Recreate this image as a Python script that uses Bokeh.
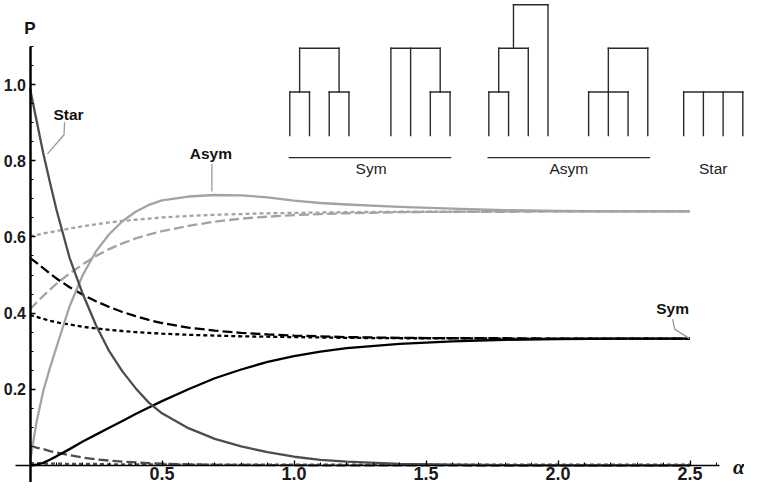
from bokeh.plotting import figure
from bokeh.models import Range1d, LinearAxis, FixedTicker, PrintfTickFormatter
from bokeh.core.properties import value
from bokeh.embed import file_html
from bokeh.resources import INLINE

# ---------------- data ----------------
alpha = [0, 0.025, 0.05, 0.075, 0.1, 0.15, 0.2, 0.25, 0.3, 0.35, 0.4, 0.45, 0.5,
         0.6, 0.7, 0.8, 0.9, 1.0, 1.1, 1.2, 1.4, 1.6, 1.8, 2.0, 2.25, 2.5]

star_solid = [0.99, 0.905, 0.82, 0.745, 0.672, 0.545, 0.45, 0.368, 0.30, 0.247, 0.203, 0.165, 0.137,
              0.098, 0.07, 0.05, 0.035, 0.023, 0.015, 0.01, 0.004, 0.002, 0.001, 0.0005, 0.0002, 0.0001]
sym_solid = [0, 0.002, 0.007, 0.015, 0.024, 0.043, 0.063, 0.081, 0.099, 0.117, 0.135, 0.152, 0.169,
             0.20, 0.229, 0.252, 0.272, 0.287, 0.299, 0.308, 0.319, 0.326, 0.33, 0.332, 0.333, 0.333]
asym_solid = [0.01, 0.115, 0.195, 0.255, 0.31, 0.418, 0.50, 0.562, 0.607, 0.641, 0.666, 0.684, 0.696,
              0.706, 0.71, 0.709, 0.704, 0.695, 0.689, 0.685, 0.679, 0.674, 0.67, 0.668, 0.667, 0.667]
star_dashed = [0.052, 0.047, 0.043, 0.038, 0.034, 0.027, 0.021, 0.016, 0.013, 0.010, 0.008, 0.006, 0.005,
               0.003, 0.002, 0.0015, 0.001, 0.0007, 0.0005, 0.0003, 0.0002, 0.0001, 0, 0, 0, 0]
star_dotted = [0.006, 0.006, 0.005, 0.005, 0.005, 0.004, 0.004, 0.004, 0.003, 0.003, 0.003, 0.003, 0.003,
               0.002, 0.002, 0.002, 0.002, 0.002, 0.002, 0.002, 0.002, 0.002, 0.002, 0.002, 0.002, 0.002]
sym_dashed = [0.545, 0.532, 0.518, 0.504, 0.491, 0.468, 0.448, 0.431, 0.416, 0.403, 0.392, 0.382, 0.374,
              0.362, 0.354, 0.348, 0.344, 0.341, 0.339, 0.337, 0.335, 0.334, 0.334, 0.333, 0.333, 0.333]
sym_dotted = [0.395, 0.39, 0.385, 0.38, 0.376, 0.37, 0.364, 0.36, 0.356, 0.353, 0.35, 0.348, 0.346,
              0.343, 0.341, 0.339, 0.338, 0.337, 0.336, 0.335, 0.334, 0.334, 0.333, 0.333, 0.333, 0.333]
asym_dashed = [0.41, 0.428, 0.445, 0.461, 0.477, 0.504, 0.528, 0.55, 0.568, 0.583, 0.596, 0.606, 0.615,
               0.629, 0.64, 0.648, 0.653, 0.657, 0.66, 0.662, 0.665, 0.666, 0.666, 0.667, 0.667, 0.667]
asym_dotted = [0.602, 0.605, 0.609, 0.612, 0.615, 0.622, 0.628, 0.633, 0.638, 0.642, 0.645, 0.648, 0.651,
               0.655, 0.658, 0.66, 0.662, 0.663, 0.664, 0.665, 0.666, 0.666, 0.667, 0.667, 0.667, 0.667]

x_ticks = [0.5, 1.0, 1.5, 2.0, 2.5]
x_minor = [i / 10 for i in range(1, 27)]
y_ticks = [0.2, 0.4, 0.6, 0.8, 1.0]
y_minor = [i / 20 for i in range(1, 23)]

tree_labels = ["Sym", "Asym", "Star"]
curve_labels = ["Star", "Asym", "Sym"]

# tree topologies: (kind, position, from, to) in leaf / level units
trees = [
    [("v", 0, 0, 1), ("v", 1, 0, 1), ("v", 2, 0, 1), ("v", 3, 0, 1), ("v", 0.5, 1, 2), ("v", 2.5, 1, 2),
     ("h", 1, 0, 1), ("h", 1, 2, 3), ("h", 2, 0.5, 2.5)],
    [("v", 0, 0, 2), ("v", 1, 0, 2), ("v", 2, 0, 1), ("v", 3, 0, 1), ("v", 2.5, 1, 2),
     ("h", 1, 2, 3), ("h", 2, 0, 2.5)],
    [("v", 0, 0, 1), ("v", 1, 0, 1), ("v", 0.5, 1, 2), ("v", 2, 0, 2), ("v", 1.25, 2, 3), ("v", 3, 0, 3),
     ("h", 1, 0, 1), ("h", 2, 0.5, 2), ("h", 3, 1.25, 3)],
    [("v", 0, 0, 1), ("v", 1, 0, 1), ("v", 2, 0, 1), ("v", 1, 1, 2), ("v", 3, 0, 2),
     ("h", 1, 0, 2), ("h", 2, 1, 3)],
    [("v", 0, 0, 1), ("v", 1, 0, 1), ("v", 2, 0, 1), ("v", 3, 0, 1), ("h", 1, 0, 3)],
]

# ---------------- layout ----------------
W, H = 744, 482
X0_PX, PPU_X = 29.5, 264.0      # pixel of alpha=0, pixels per unit
Y0_PX, PPU_Y = 465.0, 381.0     # pixel (from top) of P=0, pixels per unit

p = figure(width=W, height=H, output_backend="svg", toolbar_location=None,
           x_range=Range1d(-X0_PX / PPU_X, (W - X0_PX) / PPU_X),
           y_range=Range1d(-(H - Y0_PX) / PPU_Y, Y0_PX / PPU_Y),
           x_axis_location=None, y_axis_location=None, min_border=0)
p.outline_line_color = None
p.background_fill_color = "white"
p.border_fill_color = "white"
p.grid.visible = False

FONT = value("Liberation Sans")

xaxis = LinearAxis(fixed_location=0, bounds=(-0.056, 2.61),
                   ticker=FixedTicker(ticks=x_ticks, minor_ticks=x_minor),
                   formatter=PrintfTickFormatter(format="%.1f"))
yaxis = LinearAxis(fixed_location=0, bounds=(-0.06, 1.1),
                   ticker=FixedTicker(ticks=y_ticks, minor_ticks=y_minor),
                   formatter=PrintfTickFormatter(format="%.1f"))
for ax, lw, fs, so in ((xaxis, 1.5, "18px", 1), (yaxis, 2.5, "16px", 4)):
    ax.axis_line_color = "black"
    ax.axis_line_width = lw
    ax.major_tick_in = 5
    ax.major_tick_out = 0
    ax.minor_tick_in = 3
    ax.minor_tick_out = 0
    ax.major_tick_line_color = "black"
    ax.minor_tick_line_color = "black"
    ax.major_tick_line_width = 1.3
    ax.minor_tick_line_width = 1
    ax.major_label_text_font = "Liberation Sans"
    ax.major_label_text_font_style = "bold"
    ax.major_label_text_font_size = fs
    ax.major_label_text_color = "#1a1a1a"
    ax.major_label_standoff = so
p.add_layout(xaxis, "below")
p.add_layout(yaxis, "left")

STAR_C, ASYM_C, SYM_C = "#4d4d4d", "#a3a3a3", "#000000"
LW = 2.3
DASH, DOT = "10 4", "4 3"

p.line(alpha, star_dotted, line_color=STAR_C, line_width=LW, line_dash=DOT)
p.line(alpha, star_dashed, line_color=STAR_C, line_width=LW, line_dash=DASH)
p.line(alpha, asym_dotted, line_color=ASYM_C, line_width=LW, line_dash=DOT)
p.line(alpha, asym_dashed, line_color=ASYM_C, line_width=LW, line_dash=DASH)
p.line(alpha, sym_dotted, line_color=SYM_C, line_width=LW, line_dash=DOT)
p.line(alpha, sym_dashed, line_color=SYM_C, line_width=LW, line_dash=DASH)
p.line(alpha, asym_solid, line_color=ASYM_C, line_width=LW, line_join="round")
p.line(alpha, sym_solid, line_color=SYM_C, line_width=LW, line_join="round")
p.line(alpha, star_solid, line_color=STAR_C, line_width=LW, line_join="round")

# curve annotations with leader lines
label_x = [0.146, 0.685, 2.434]
label_y = [0.922, 0.818, 0.413]
leaders_x = [[0.131, 0.129, 0.066], [0.689, 0.689], [2.434, 2.442, 2.498]]
leaders_y = [[0.901, 0.868, 0.818], [0.792, 0.719], [0.384, 0.358, 0.333]]
p.multi_line(leaders_x, leaders_y, line_color="#999999", line_width=1.3, line_join="round")
p.text(label_x, label_y, text=curve_labels, text_font=FONT, text_font_style="bold",
       text_font_size="15.5px", text_align="center", text_baseline="middle", text_color="#111111")

# axis titles
p.text([0.0], [1.148], text=["P"], text_font=FONT, text_font_style="bold",
       text_font_size="17px", text_align="center", text_baseline="middle", text_color="#111111")
p.text([2.685], [-0.004], text=["α"], text_font=value("Liberation Serif"), text_font_style="bold italic",
       text_font_size="21px", text_align="center", text_baseline="middle", text_color="#111111")

# tree diagrams
tree_x0 = [0.984, 1.367, 1.738, 2.116, 2.476]
LEAF_DX, LEVEL_DY, BASE_Y = 0.0747, 0.1145, 0.866
sx0, sy0, sx1, sy1 = [], [], [], []
for x0, tree in zip(tree_x0, trees):
    for kind, a, b, c in tree:
        if kind == "v":
            sx0.append(x0 + a * LEAF_DX); sx1.append(x0 + a * LEAF_DX)
            sy0.append(BASE_Y + b * LEVEL_DY); sy1.append(BASE_Y + c * LEVEL_DY)
        else:
            sx0.append(x0 + b * LEAF_DX); sx1.append(x0 + c * LEAF_DX)
            sy0.append(BASE_Y + a * LEVEL_DY); sy1.append(BASE_Y + a * LEVEL_DY)
p.segment(sx0, sy0, sx1, sy1, line_color="#2a2a2a", line_width=1.4, line_cap="square")

# group underlines and labels
p.segment([0.98, 1.733], [0.808, 0.808], [1.596, 2.349], [0.808, 0.808],
          line_color="#2a2a2a", line_width=1.3)
p.text([1.292, 2.041, 2.588], [0.779, 0.779, 0.779], text=tree_labels, text_font=FONT,
       text_font_size="15.5px", text_align="center", text_baseline="middle", text_color="#222222")

open("out.html", "w").write(file_html(p, INLINE))
